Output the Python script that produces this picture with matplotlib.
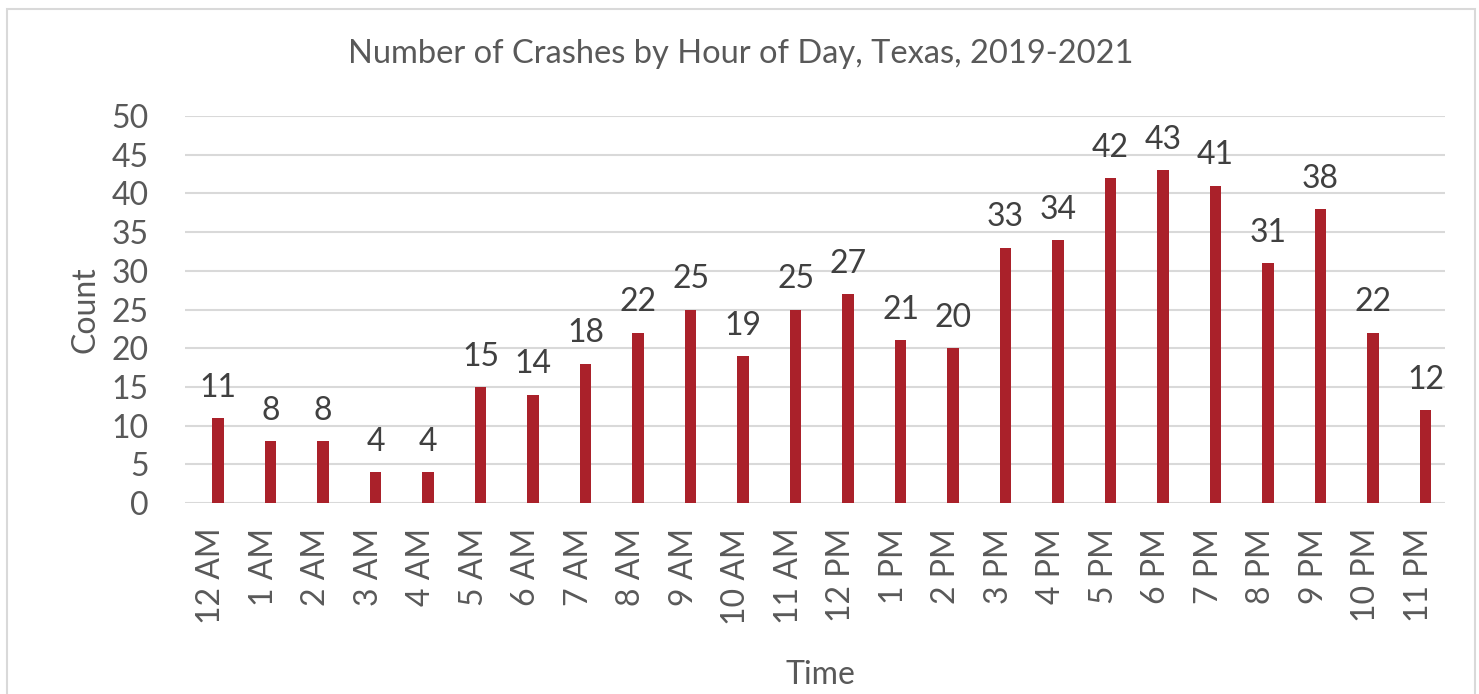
import matplotlib
matplotlib.use("Agg")
import matplotlib.pyplot as plt
from matplotlib.patches import Rectangle

hours = ["12 AM", "1 AM", "2 AM", "3 AM", "4 AM", "5 AM", "6 AM", "7 AM", "8 AM",
         "9 AM", "10 AM", "11 AM", "12 PM", "1 PM", "2 PM", "3 PM", "4 PM", "5 PM",
         "6 PM", "7 PM", "8 PM", "9 PM", "10 PM", "11 PM"]
counts = [11, 8, 8, 4, 4, 15, 14, 18, 22, 25, 19, 25, 27, 21, 20, 33, 34, 42,
          43, 41, 31, 38, 22, 12]
yticks = [0, 5, 10, 15, 20, 25, 30, 35, 40, 45, 50]

plt.rcParams['font.family'] = ['Lato', 'DejaVu Sans']

W, H = 1479, 694
fig = plt.figure(figsize=(W / 100, H / 100), dpi=100)
fig.patches.append(Rectangle((7 / W, -0.05), (1475 - 7) / W, 1.05 - 9 / H,
                             transform=fig.transFigure, fill=False,
                             edgecolor="#d9d9d9", linewidth=1.5))

left, right, top, bottom = 185, 1445, 116, 503
ax = fig.add_axes([left / W, 1 - bottom / H, (right - left) / W, (bottom - top) / H])

x = list(range(len(hours)))
off = 0.13
ax.bar([i + off for i in x], counts, width=0.22, color="#AA212A", zorder=3)
for i, v in zip(x, counts):
    ax.annotate(str(v), (i + off, v), xytext=(0, 11), textcoords="offset points",
                ha="center", va="bottom", fontsize=23, color="#404040")

ax.set_xlim(-0.5, len(hours) - 0.5)
ax.set_ylim(0, 50)
ax.set_yticks(yticks)
ax.set_yticklabels([str(t) for t in yticks], fontsize=23, color="#595959")
ax.set_xticks(x)
ax.set_xticklabels(hours, rotation=90, fontsize=23, color="#595959")
ax.tick_params(axis="both", length=0)
ax.tick_params(axis="x", pad=18)
ax.tick_params(axis="y", pad=26)
ax.grid(axis="y", color="#d9d9d9", linewidth=1.5, zorder=0)
for s in ax.spines.values():
    s.set_visible(False)

fig.text(741 / W, 1 - 54 / H, "Number of Crashes by Hour of Day, Texas, 2019-2021",
         ha="center", va="center", fontsize=23.5, color="#595959")
fig.text(85 / W, 1 - 310 / H, "Count", rotation=90, ha="center", va="center",
         fontsize=23, color="#595959")
fig.text(820 / W, 1 - 675 / H, "Time", ha="center", va="center",
         fontsize=23, color="#595959")

fig.savefig("out.png", dpi=100)
